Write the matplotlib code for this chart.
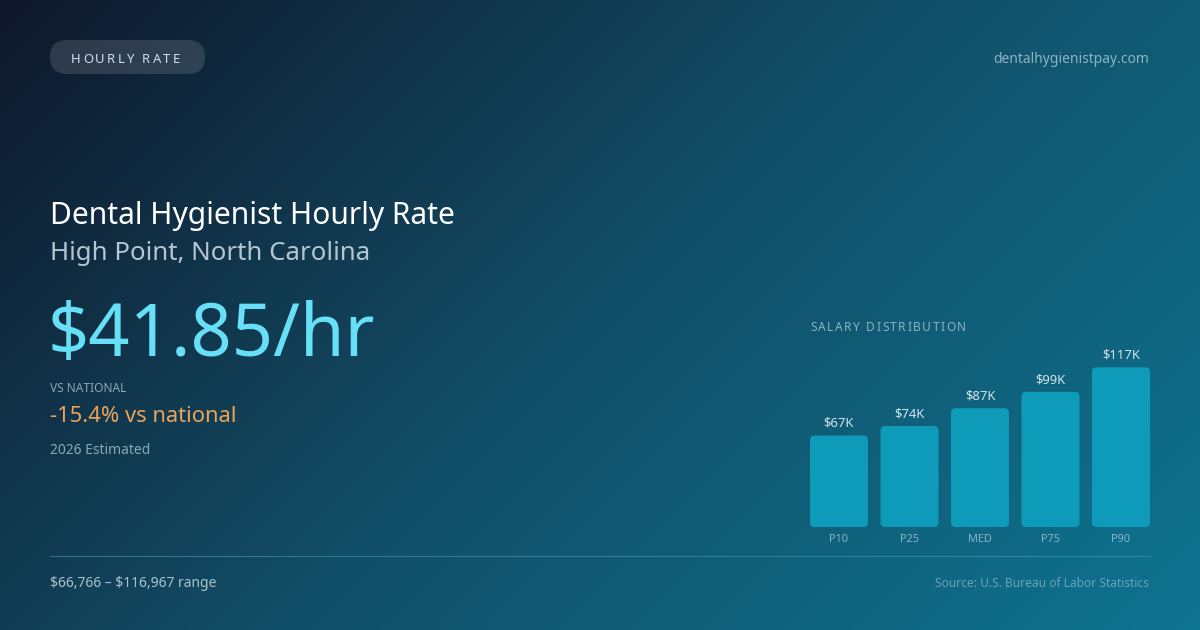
import numpy as np
import matplotlib
matplotlib.use("Agg")
import matplotlib.pyplot as plt
from matplotlib.patches import FancyBboxPatch
from matplotlib.colors import LinearSegmentedColormap

plt.rcParams['font.family'] = ['Noto Sans', 'DejaVu Sans']
plt.rcParams['text.parse_math'] = False

W, H, DPI = 1200, 630, 100

# data
percentiles = ["P10", "P25", "MED", "P75", "P90"]
salary_k = [67, 74, 87, 99, 117]
value_labels = ["$67K", "$74K", "$87K", "$99K", "$117K"]

badge = "HOURLY RATE"
site = "dentalhygienistpay.com"
title = "Dental Hygienist Hourly Rate"
location = "High Point, North Carolina"
hourly = "$41.85/hr"
vs_label = "VS NATIONAL"
vs_text = "-15.4% vs national"
estimate = "2026 Estimated"
range_text = "$66,766 \u2013 $116,967 range"
source = "Source: U.S. Bureau of Labor Statistics"
chart_title = "SALARY DISTRIBUTION"

BG_STOPS = ["#0f172a", "#124f68", "#0e7490"]


def gradient(w, h):
    # 135deg linear gradient, like the css one
    yy, xx = np.mgrid[0:h, 0:w]
    d = np.sqrt(0.5)
    L = (w + h) * d
    t = ((xx - w / 2) * d + (yy - h / 2) * d) / L + 0.5
    cmap = LinearSegmentedColormap.from_list("bg", BG_STOPS)
    return cmap(np.clip(t, 0, 1))[..., :3]


def spaced_text(ax, x, y, s, spacing, renderer, **kw):
    # letter-spaced text, one glyph at a time
    from matplotlib.font_manager import FontProperties
    prop = FontProperties(family=plt.rcParams['font.family'], size=kw.get("fontsize", 10))
    bar_w = renderer.get_text_width_height_descent("|", prop, ismath=False)[0]
    for i, ch in enumerate(s):
        pre = renderer.get_text_width_height_descent(s[:i] + "|", prop, ismath=False)[0] - bar_w
        ax.text(x + pre + i * spacing, y, ch, **kw)


fig = plt.figure(figsize=(W / DPI, H / DPI), dpi=DPI)
bg = fig.add_axes([0, 0, 1, 1])
bg.imshow(gradient(W, H), extent=[0, W, H, 0], aspect="auto", zorder=0)
bg.set_xlim(0, W); bg.set_ylim(H, 0)
bg.axis("off")
renderer = fig.canvas.get_renderer()

# badge pill
pill = FancyBboxPatch((50, 40), 155, 34, boxstyle="round,pad=0,rounding_size=17",
                      fc="white", ec="none", alpha=0.13, zorder=1)
bg.add_patch(pill)
spaced_text(bg, 71, 63, badge, 2.3, renderer, fontsize=9.4, color="#d3dee6",
            va="baseline", ha="left", zorder=2)

bg.text(1149, 63, site, fontsize=10, color="#8cb2c4", ha="right", va="baseline")

bg.text(50, 224, title, fontsize=21.6, color="white", ha="left", va="baseline")
bg.text(50, 260, location, fontsize=18.6, color="#b4c6d0", ha="left", va="baseline")
bg.text(48, 356, hourly, fontsize=52, color="#67e0f7", ha="left", va="baseline")
bg.text(50, 392, vs_label, fontsize=8.6, color="#8ba6b5", ha="left", va="baseline")
bg.text(50, 422, vs_text, fontsize=15.8, color="#eba25a", ha="left", va="baseline")
bg.text(50, 454, estimate, fontsize=10, color="#8ca6b4", ha="left", va="baseline")

bg.plot([50, 1150], [556, 556], color="#4a94ad", lw=0.8, alpha=0.6, zorder=1)
bg.text(50, 587, range_text, fontsize=10, color="#a9c2ce", ha="left", va="baseline")
bg.text(1149, 587, source, fontsize=8.6, color="#6aa2bb", ha="right", va="baseline")

spaced_text(bg, 810, 331, chart_title, 1.55, renderer, fontsize=8.6, color="#8db2c3",
            va="baseline", ha="left")

# salary bars
ax_l, ax_w = 803.75, 352.5
ax_b, ax_h = H - 527, 172
px_per_k = 1.365
ax = fig.add_axes([ax_l / W, ax_b / H, ax_w / W, ax_h / H])
ax.patch.set_alpha(0)
x = np.arange(len(percentiles))
bars = ax.bar(x, salary_k, width=58 / 70.5, color="#0e9bb9")
ax.set_xlim(-0.5, len(percentiles) - 0.5)
ax.set_ylim(0, ax_h / px_per_k)

px_x = ax_w / (len(percentiles))
r = 4.5 / px_x
aspect = px_x / px_per_k
for b in bars:
    rb = FancyBboxPatch((b.get_x(), b.get_y()), b.get_width(), b.get_height(),
                        boxstyle=f"round,pad=0,rounding_size={r}", mutation_aspect=aspect,
                        fc=b.get_facecolor(), ec="none")
    b.remove()
    ax.add_patch(rb)

for xi, v, lab in zip(x, salary_k, value_labels):
    ax.annotate(lab, (xi, v), xytext=(0, 4), textcoords="offset points",
                ha="center", va="bottom", fontsize=9.4, color="#d2e2ea")

ax.set_xticks(x, percentiles)
ax.tick_params(axis="x", length=0, pad=5, labelsize=7.9, labelcolor="#86b6c9")
ax.set_yticks([])
for s in ax.spines.values():
    s.set_visible(False)

fig.savefig("out.png", dpi=DPI)
